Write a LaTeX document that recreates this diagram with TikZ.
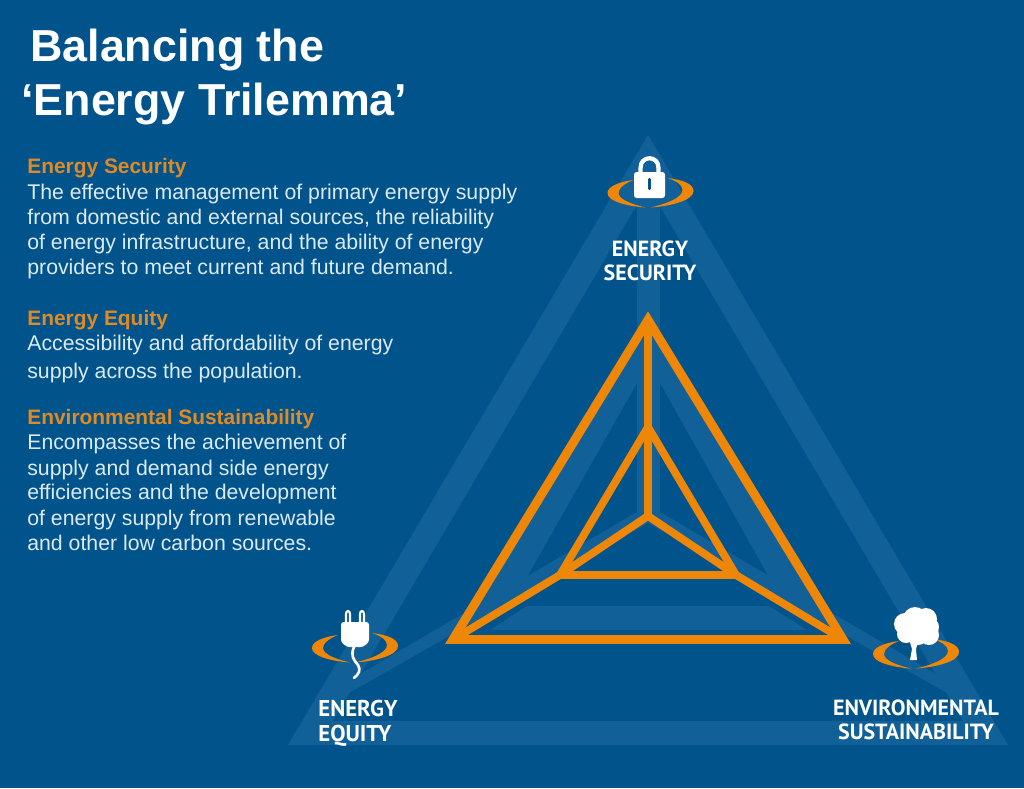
\documentclass[tikz,border=0pt]{standalone}
\usepackage{fontspec}
\setmainfont{Liberation Sans}
\newfontfamily\labelfont{PT Sans}
\definecolor{deepblue}{RGB}{1,83,140}
\definecolor{bandblue}{RGB}{17,96,151}
\definecolor{triorange}{RGB}{238,135,8}
\definecolor{headorange}{RGB}{224,138,36}
\definecolor{bodywhite}{RGB}{220,234,244}
\tikzset{
  band/.style={fill=bandblue},
  triline/.style={draw=triorange,line width=5.1pt,line join=miter},
  thinline/.style={draw=triorange,line width=4.4pt,line join=miter},
  titletext/.style={anchor=base west,inner sep=0pt,text=white,font=\fontsize{25.5}{30}\selectfont\bfseries},
  headtext/.style={anchor=base west,inner sep=0pt,text=headorange,font=\fontsize{11.9}{14}\selectfont\bfseries},
  bodytext/.style={anchor=base west,inner sep=0pt,text=bodywhite,font=\fontsize{12.1}{14}\selectfont},
  cornerlabel/.style={inner sep=0pt,text=white,align=center,font=\labelfont\fontsize{12.5}{13.4}\selectfont\bfseries},
  swoosh/.pic={
    \fill[triorange] (-17,-13) .. controls (-33,-11) and (-43,-6) .. (-43,0)
      .. controls (-43,8) and (-25,13) .. (-5,14.5)
      .. controls (-20,11) and (-32,6) .. (-32,0)
      .. controls (-32,-5) and (-25,-10) .. (-17,-13) -- cycle;
    \fill[triorange] (17,-15) .. controls (33,-13) and (43,-9) .. (43,-2)
      .. controls (43,7) and (22,13) .. (0,14.5)
      .. controls (15,11) and (32,5) .. (32,-3)
      .. controls (32,-8) and (26,-12) .. (17,-15) -- cycle;
  }
}

\begin{document}
\begin{tikzpicture}[x=0.02cm,y=-0.02cm]
  \useasboundingbox (0,0) rectangle (1024,788);
  \fill[deepblue] (0,0) rectangle (1024,788);

  % pale triangle behind
  \fill[band,even odd rule] (648,135) -- (288,745) -- (1008,745) -- cycle
    (648,186) -- (333,721) -- (963,721) -- cycle;
  \fill[band] (637,170) rectangle (660,523);
  \fill[band] (349,693) -- (360,674) -- (637,512) -- (660,512) -- (936,674) -- (947,693) -- (648,523) -- cycle;
  \fill[band] (648,321) -- (637,383) -- (527,577) -- (468,625) -- cycle;
  \fill[band] (648,321) -- (660,383) -- (769,577) -- (828,625) -- cycle;
  \fill[band] (527,606) -- (769,606) -- (807,630) -- (490,630) -- cycle;

  % orange frame
  \coordinate (top) at (648,320);
  \coordinate (left) at (453,639.5);
  \coordinate (right) at (843,639.5);
  \coordinate (midtop) at (648,427);
  \coordinate (midleft) at (560,575);
  \coordinate (midright) at (736,575);
  \coordinate (centre) at (648,516);
  \draw[triline] (top) -- (centre);
  \draw[thinline] (left) -- (midleft) -- (centre) -- (midright) -- (right);
  \draw[thinline] (midtop) -- (midleft) -- (midright) -- cycle;
  \draw[triline] (top) -- (left) -- (right) -- cycle;

  % lock
  \pic at (650.5,193) {swoosh};
  \draw[white,line width=2.4pt] (640.5,175) -- (640.5,168) .. controls (640.5,155) and (658.5,155) .. (658.5,168) -- (658.5,175);
  \fill[white,rounded corners=1.5pt] (634,172) rectangle (665,198);
  \draw[deepblue,line width=2.2pt,line cap=round] (649.5,180) -- (649.5,188);

  % plug
  \pic at (355,648) {swoosh};
  \draw[white,line width=1.2pt] (346,622) -- (346,614) .. controls (346,610) and (350,610) .. (350,614) -- (350,622);
  \draw[white,line width=1.2pt] (360,622) -- (360,614) .. controls (360,610) and (364,610) .. (364,614) -- (364,622);
  \fill[white,rounded corners=1.5pt] (341,622) -- (369,622) -- (369,642) -- (363,647) -- (347,647) -- (341,642) -- cycle;
  \draw[white,line width=1.5pt,line cap=round] (354,647) .. controls (350,656) and (354,660) .. (358,665)
    .. controls (361,670) and (359,674) .. (354,678);

  % tree
  \pic at (916,654) {swoosh};
  \fill[white] (909,639) -- (913,639) -- (914.5,643) -- (916,639) -- (919,639) -- (916,649) -- (917,660) -- (910,660) -- (912,649) -- cycle;
  \foreach \cx/\cy/\r in {905/624/11,915/619/12,926/619/11,929/627/10,929/635/10,918/634/11,906/634/9,916/626/15}
    \fill[white] (\cx,\cy) circle (\r);

  \node[cornerlabel] (securitylabel) at (650,261) {ENERGY\\SECURITY};
  \node[cornerlabel,align=left,anchor=west,font=\labelfont\fontsize{13}{13.6}\selectfont\bfseries] (equitylabel) at (318,723) {ENERGY\\[0.6pt]EQUITY};
  \node[cornerlabel] (sustainlabel) at (916,720) {ENVIRONMENTAL\\SUSTAINABILITY};

  \node[titletext] (titleone) at (30,61) {Balancing the};
  \node[titletext] (titletwo) at (21,115) {‘Energy Trilemma’};

  \node[headtext] (headsecurity) at (27,173) {Energy Security};
  \node[headtext] (headequity) at (27,325) {Energy Equity};
  \node[headtext] (headsustain) at (27,424) {Environmental Sustainability};
  \foreach \i/\y/\txt in {
    1/199/{The effective management of primary energy supply},
    2/224/{from domestic and external sources, the reliability},
    3/249/{of energy infrastructure, and the ability of energy},
    4/274/{providers to meet current and future demand.},
    5/350/{Accessibility and affordability of energy},
    6/378/{supply across the population.},
    7/449/{Encompasses the achievement of},
    8/475/{supply and demand side energy},
    9/499/{efficiencies and the development},
    10/525/{of energy supply from renewable},
    11/550/{and other low carbon sources.}}
    \node[bodytext] (line\i) at (27,\y) {\txt};
\end{tikzpicture}
\end{document}
